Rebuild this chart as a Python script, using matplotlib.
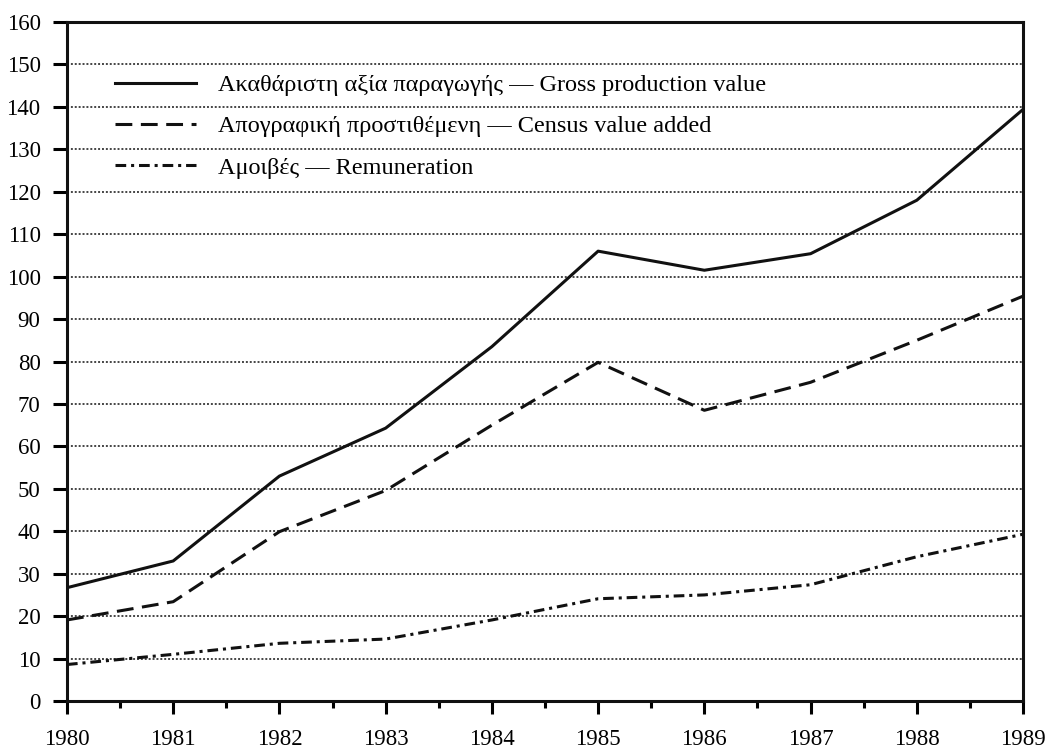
import matplotlib
matplotlib.use("Agg")
import matplotlib.pyplot as plt
from matplotlib.ticker import MultipleLocator

# values (index, roughly 0-160)
years = [1980, 1981, 1982, 1983, 1984, 1985, 1986, 1987, 1988, 1989]
gross = [26.7, 33.0, 53.0, 64.3, 83.5, 106.0, 101.5, 105.4, 118.0, 139.4]
census = [19.1, 23.4, 39.9, 49.6, 65.0, 79.8, 68.5, 75.1, 85.0, 95.4]
remun = [8.6, 11.0, 13.6, 14.6, 19.1, 24.1, 25.0, 27.4, 34.0, 39.3]

LAB_GROSS = "Ακαθάριστη αξία παραγωγής — Gross production value"
LAB_CENSUS = "Απογραφική προστιθέμενη — Census value added"
LAB_REMUN = "Αμοιβές — Remuneration"

plt.rcParams.update({
    "font.family": ["Liberation Serif", "DejaVu Serif"],
    "font.size": 16,
})

fig = plt.figure(figsize=(10.51, 7.5), dpi=100)
ax = fig.add_axes([0.0637, 0.0653, 0.9097, 0.9054])

LW = 2.2
ax.plot(years, gross, color="#111", lw=LW, label=LAB_GROSS)
ax.plot(years, census, color="#111", lw=LW, ls=(0, (5.5, 2.8)), label=LAB_CENSUS)
ax.plot(years, remun, color="#111", lw=LW, ls=(0, (3.5, 1.6, 1, 1.6)), label=LAB_REMUN)

ax.set_xlim(1980, 1989)
ax.set_ylim(0, 160)
ax.yaxis.set_major_locator(MultipleLocator(10))
ax.xaxis.set_major_locator(MultipleLocator(1))
ax.xaxis.set_minor_locator(MultipleLocator(0.5))
ax.grid(axis="y", color="#444", lw=1.4, ls=(0, (1, 1)))
ax.set_axisbelow(True)

for s in ax.spines.values():
    s.set_linewidth(2.2)
    s.set_color("#111")

ax.tick_params(axis="y", which="major", direction="out", length=10, width=2.2,
               pad=9, labelsize=16.5)
ax.tick_params(axis="x", which="major", direction="out", length=9, width=2.2,
               pad=11.5, labelsize=16.5)
ax.tick_params(axis="x", which="minor", direction="out", length=5, width=2.2)

ax.legend(loc="upper left", bbox_to_anchor=(115 / 1051, 1 - 74 / 750),
          bbox_transform=fig.transFigure, frameon=False, fontsize=17.5,
          handlelength=3.35, handletextpad=0.9, labelspacing=0.8,
          borderpad=0, borderaxespad=0)

fig.savefig("out.png")
